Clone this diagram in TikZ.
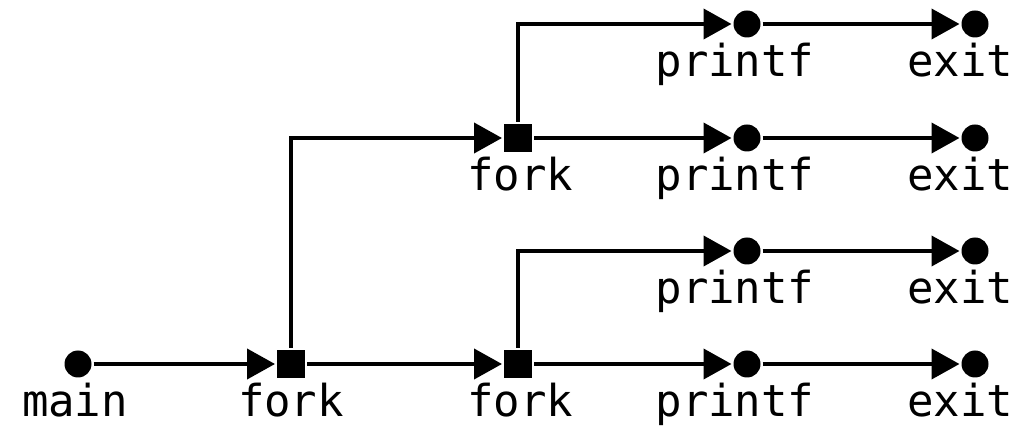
\documentclass[tikz,border=0pt]{standalone}
\usepackage{fontspec}
\setmonofont{DejaVu Sans Mono}
\usetikzlibrary{arrows.meta}
\begin{document}
\begin{tikzpicture}[x=1pt,y=-1pt,
  line width=4pt,
  call/.style={circle,fill=black,inner sep=0pt,minimum size=27pt},
  forkbox/.style={rectangle,fill=black,inner sep=0pt,minimum size=28pt},
  lbl/.style={anchor=base,inner sep=0pt,font=\fontsize{44}{44}\ttfamily},
  flow/.style={-{Triangle[length=28pt,width=30pt]}}]
\useasboundingbox (0,0) rectangle (1026,427);
% process nodes
\node[call] (main) at (78,364) {};
\node[forkbox] (f1) at (291,364) {};
\node[forkbox] (f2) at (518,364) {};
\node[forkbox] (f3) at (518,138) {};
\node[call] (p1) at (747,24) {};
\node[call] (p2) at (747,138) {};
\node[call] (p3) at (747,251) {};
\node[call] (p4) at (747,364) {};
\node[call] (e1) at (975,24) {};
\node[call] (e2) at (975,138) {};
\node[call] (e3) at (975,251) {};
\node[call] (e4) at (975,364) {};
% labels
\node[lbl] (lmain) at (75,417) {main};
\node[lbl] (lf1) at (291,417) {fork};
\node[lbl] (lf2) at (520,417) {fork};
\node[lbl] (lf3) at (520,191) {fork};
\node[lbl] (lp1) at (735,77) {printf};
\node[lbl] (lp2) at (735,191) {printf};
\node[lbl] (lp3) at (735,304) {printf};
\node[lbl] (lp4) at (735,417) {printf};
\node[lbl] (le1) at (960,77) {exit};
\node[lbl] (le2) at (960,191) {exit};
\node[lbl] (le3) at (960,304) {exit};
\node[lbl] (le4) at (960,417) {exit};
% edges
\draw[flow] (main) -- (f1);
\draw[flow] (f1) -- (f2);
\draw[flow] (f1.north) |- (f3);
\draw[flow] (f2) -- (p4);
\draw[flow] (f2.north) |- (p3);
\draw[flow] (f3) -- (p2);
\draw[flow] (f3.north) |- (p1);
\draw[flow] (p1) -- (e1);
\draw[flow] (p2) -- (e2);
\draw[flow] (p3) -- (e3);
\draw[flow] (p4) -- (e4);
\end{tikzpicture}
\end{document}
